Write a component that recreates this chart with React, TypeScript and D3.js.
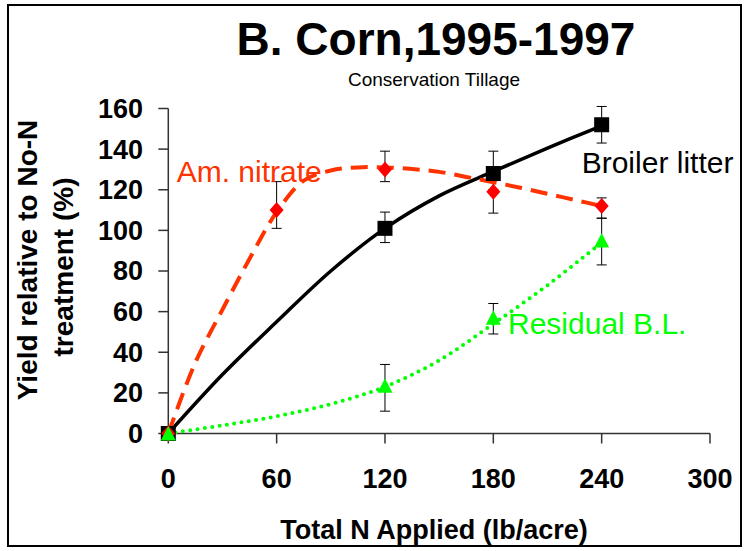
import React from "react";
import * as d3 from "d3";

const xTicks = [0, 60, 120, 180, 240, 300];
const yTicks = [0, 20, 40, 60, 80, 100, 120, 140, 160];

// Broiler litter (observed)
const blX = [0, 120, 180, 240];
const blY = [0, 101, 128, 152];
const blLo = [null, 94, 120, 143];
const blHi = [null, 109, 139, 161];

// Am. nitrate (observed)
const anX = [0, 60, 120, 180, 240];
const anY = [0, 110, 130, 119, 112];
const anLo = [null, 101, 124, 108.5, 106];
const anHi = [null, 124, 139, 129.5, 116];

// Residual B.L. (observed)
const rbX = [0, 120, 180, 240];
const rbY = [0, 23.5, 57, 95];
const rbLo = [null, 11, 49, 83];
const rbHi = [null, 34, 64, 106];

// Fitted curves
const fitX15 = [0, 15, 30, 45, 60, 75, 90, 105, 120, 135, 150, 165, 180, 195, 210, 225, 240];
const anFit = [0, 35, 61, 86, 109, 124.5, 129.5, 131, 131, 130.2, 128.8, 126.3, 123.7, 121, 118, 115, 112];
const fitX30 = [0, 30, 60, 90, 120, 150, 180, 210, 240];
const blFit = [0, 29, 55, 80, 101, 117, 129, 140.5, 151.5];
const rbFit = [0, 4, 8.5, 14.5, 23, 36, 54, 73, 94];

const FONT = "'Liberation Sans', Arial, Helvetica, sans-serif";
const RED_LINE = "#FF3300";
const RED = "#FF0000";
const GREEN = "#00FF00";

export default function App() {
  const x = d3.scaleLinear().domain([0, 300]).range([168.3, 710]);
  const y = d3.scaleLinear().domain([0, 160]).range([433.5, 108.5]);

  const line = d3
    .line<[number, number]>()
    .x((d) => x(d[0]))
    .y((d) => y(d[1]))
    .curve(d3.curveCatmullRom.alpha(0.5));

  const pts = (xs: number[], ys: number[]) => xs.map((v, i) => [v, ys[i]] as [number, number]);

  const errBars = (xs: number[], lo: (number | null)[], hi: (number | null)[], key: string) =>
    xs.map((v, i) => {
      if (lo[i] == null || hi[i] == null) return null;
      const cx = x(v);
      const y1 = y(lo[i] as number);
      const y2 = y(hi[i] as number);
      return (
        <g key={key + i} stroke="#000" strokeWidth={1}>
          <line x1={cx} x2={cx} y1={y1} y2={y2} />
          <line x1={cx - 5} x2={cx + 5} y1={y1} y2={y1} />
          <line x1={cx - 5} x2={cx + 5} y1={y2} y2={y2} />
        </g>
      );
    });

  return (
    <svg
      width={747}
      height={551}
      style={{ position: "absolute", left: 0, top: 0, display: "block", background: "#fff" }}
    >
      <rect x={0} y={0} width={747} height={551} fill="#fff" />
      <rect x={8} y={5} width={733} height={541} fill="none" stroke="#000" strokeWidth={2} />

      {/* Title */}
      <text x={436} y={55} textAnchor="middle" fontFamily={FONT} fontWeight="bold" fontSize={46} fill="#000">
        B. Corn,1995-1997
      </text>
      <text x={434} y={86} textAnchor="middle" fontFamily={FONT} fontSize={19} fill="#000">
        Conservation Tillage
      </text>

      {/* Axes */}
      <g stroke="#333" strokeWidth={1.5}>
        <line x1={x(0)} x2={x(0)} y1={y(160)} y2={y(0)} />
        <line x1={x(0)} x2={x(300)} y1={y(0)} y2={y(0)} />
        {yTicks.map((t) => (
          <line key={"yt" + t} x1={x(0) - 10} x2={x(0)} y1={y(t)} y2={y(t)} />
        ))}
        {xTicks.map((t) => (
          <line key={"xt" + t} x1={x(t)} x2={x(t)} y1={y(0)} y2={y(0) + 10} />
        ))}
      </g>
      {yTicks.map((t) => (
        <text
          key={"yl" + t}
          x={143}
          y={y(t)}
          dy="0.35em"
          textAnchor="end"
          fontFamily={FONT}
          fontWeight="bold"
          fontSize={27}
          fill="#000"
        >
          {t}
        </text>
      ))}
      {xTicks.map((t) => (
        <text
          key={"xl" + t}
          x={x(t)}
          y={488}
          textAnchor="middle"
          fontFamily={FONT}
          fontWeight="bold"
          fontSize={27}
          fill="#000"
        >
          {t}
        </text>
      ))}

      {/* Axis titles */}
      <text x={434} y={539} textAnchor="middle" fontFamily={FONT} fontWeight="bold" fontSize={27} fill="#000">
        Total N Applied (lb/acre)
      </text>
      <text
        transform="translate(37,260) rotate(-90)"
        textAnchor="middle"
        fontFamily={FONT}
        fontWeight="bold"
        fontSize={28}
        fill="#000"
      >
        Yield relative to No-N
      </text>
      <text
        transform="translate(73,267) rotate(-90)"
        textAnchor="middle"
        fontFamily={FONT}
        fontWeight="bold"
        fontSize={28}
        fill="#000"
      >
        treatment (%)
      </text>

      {/* Error bars */}
      {errBars(blX, blLo, blHi, "ebl")}
      {errBars(anX, anLo, anHi, "ean")}
      {errBars(rbX, rbLo, rbHi, "erb")}

      {/* Fitted curves */}
      <path d={line(pts(fitX30, blFit)) || ""} fill="none" stroke="#000" strokeWidth={3.5} />
      <path
        d={line(pts(fitX15, anFit)) || ""}
        fill="none"
        stroke={RED_LINE}
        strokeWidth={4}
        strokeDasharray="17,9"
      />
      <path
        d={line(pts(fitX30, rbFit)) || ""}
        fill="none"
        stroke={GREEN}
        strokeWidth={4}
        strokeDasharray="0,7.4"
        strokeLinecap="round"
      />

      {/* Markers */}
      {blX.map((v, i) => (
        <rect key={"bm" + i} x={x(v) - 7.5} y={y(blY[i]) - 7.5} width={15} height={15} fill="#000" />
      ))}
      {anX.map((v, i) => {
        const cx = x(v);
        const cy = y(anY[i]);
        return (
          <path
            key={"am" + i}
            d={`M${cx},${cy - 8}L${cx + 7},${cy}L${cx},${cy + 8}L${cx - 7},${cy}Z`}
            fill={RED}
          />
        );
      })}
      {rbX.map((v, i) => {
        const cx = x(v);
        const cy = y(rbY[i]);
        return (
          <path
            key={"rm" + i}
            d={`M${cx},${cy - 7.5}L${cx + 7.5},${cy + 7}L${cx - 7.5},${cy + 7}Z`}
            fill={GREEN}
          />
        );
      })}

      {/* Series labels */}
      <text x={176.7} y={181.7} fontFamily={FONT} fontSize={30} fill={RED_LINE}>
        Am. nitrate
      </text>
      <text x={581.7} y={173.3} fontFamily={FONT} fontSize={30} fill="#000">
        Broiler litter
      </text>
      <text x={508} y={334.3} fontFamily={FONT} fontSize={30} fill={GREEN}>
        Residual B.L.
      </text>
    </svg>
  );
}
